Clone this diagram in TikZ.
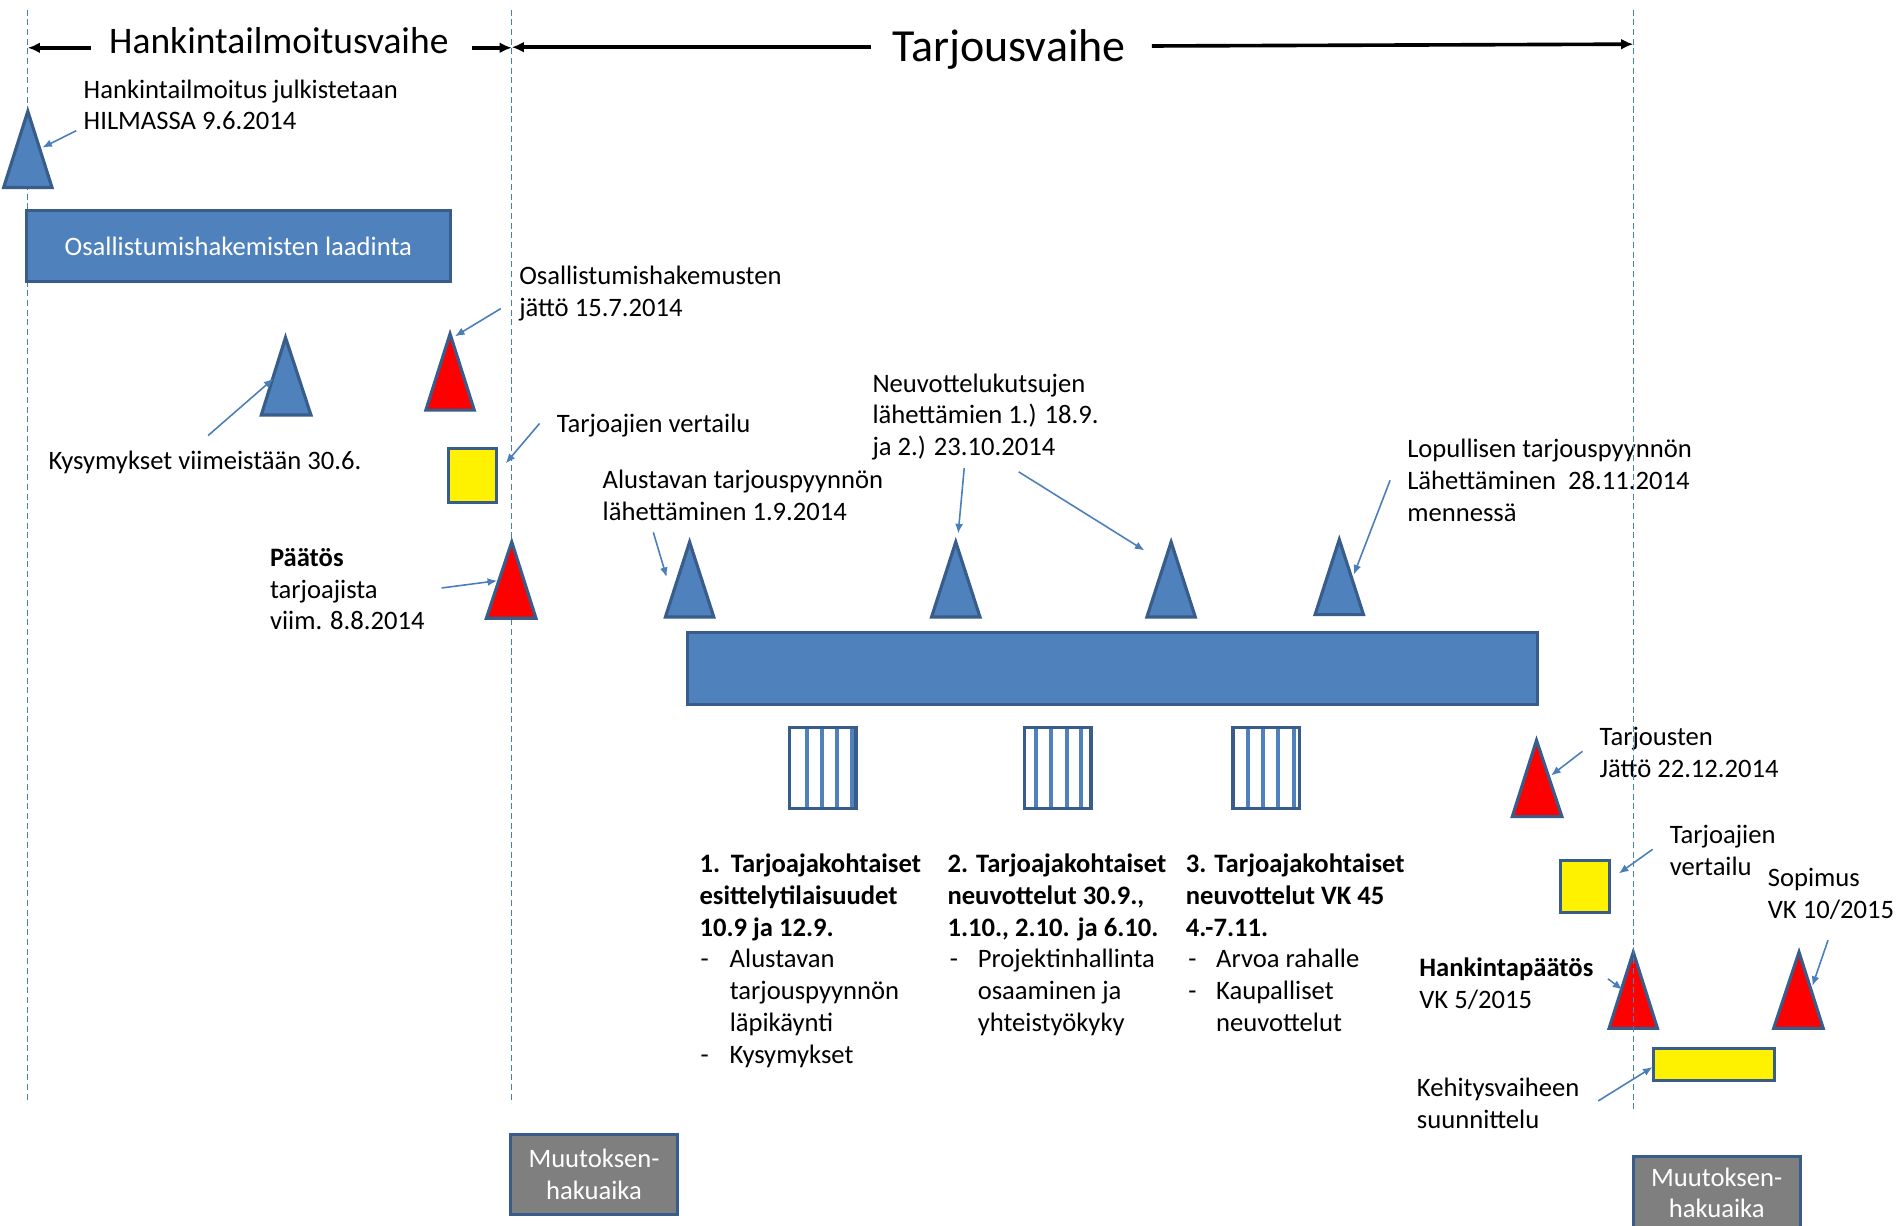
\documentclass[tikz,border=0pt]{standalone}
\usepackage{fontspec}
\setmainfont{Carlito}
\usetikzlibrary{arrows.meta}
\definecolor{bfill}{HTML}{4F81BD}
\definecolor{bline}{HTML}{385D8A}
\definecolor{arr}{HTML}{4A7EBB}
\definecolor{gfill}{HTML}{7F7F7F}
\begin{document}
\begin{tikzpicture}[x=1pt,y=-1pt,
  lbl/.style={anchor=north west, inner sep=0pt, align=left, font=\fontsize{22}{26.3}\selectfont},
  callout/.style={draw=arr, line width=1.3pt, -{Latex[length=8pt,width=6.5pt]}},
  phasearrow/.style={draw=black, line width=3pt, -{Latex[length=10pt,width=9pt]}},
  vline/.style={draw=arr, line width=1pt, dash pattern=on 5pt off 3pt},
  bluetri/.style={fill=bfill, draw=bline, line width=2.6pt},
  redtri/.style={fill=red, draw=bline, line width=2.6pt},
  bluebar/.style={rectangle, fill=bfill, draw=bline, line width=2.5pt, inner sep=0pt},
  ybox/.style={rectangle, fill=yellow, draw=bline, line width=2.5pt, inner sep=0pt},
  gbox/.style={rectangle, fill=gfill, draw=bline, line width=2.5pt, inner sep=0pt, text=white, align=center, font=\fontsize{22}{26.3}\selectfont},
  sbox/.style={rectangle, fill=white, draw=bline, line width=2.6pt, inner sep=0pt, minimum width=55pt, minimum height=67pt},
  stripe/.style={draw=bfill, line width=3.2pt}
]
\clip (0,0) rectangle (1568,1013);
\fill[white] (0,0) rectangle (1568,1013);

% dashed phase borders
\draw[vline] (23,8) -- (23,912);
\draw[vline] (423,8) -- (423,912);

% phase headers
\node[font=\fontsize{31}{36}\selectfont, anchor=base, inner sep=0pt] (ph1) at (230.5,44) {Hankintailmoitusvaihe};
\node[font=\fontsize{38}{44}\selectfont, anchor=base, inner sep=0pt] (ph2) at (834,51) {Tarjousvaihe};
\coordinate (h1a) at (75,39.5);  \coordinate (h1l) at (23,39.5);
\coordinate (h1b) at (390,39.5); \coordinate (h1r) at (423,39.5);
\coordinate (h2a) at (720,39);   \coordinate (h2l) at (423,39);
\coordinate (h2b) at (952,38);   \coordinate (h2r) at (1350,36.5);
\draw[phasearrow] (h1a) -- (h1l);
\draw[phasearrow] (h1b) -- (h1r);
\draw[phasearrow] (h2a) -- (h2l);
\draw[phasearrow] (h2b) -- (h2r);

% triangles
\draw[bluetri] (3,155) -- (23,92) -- (43,155) -- cycle;
\draw[bluetri] (216,343) -- (236,279) -- (257,343) -- cycle;
\draw[redtri] (352,339) -- (372,276) -- (392,339) -- cycle;
\draw[redtri] (402,511) -- (423,448) -- (443,511) -- cycle;
\draw[bluetri] (550,510) -- (570,448) -- (590,510) -- cycle;
\draw[bluetri] (770,510) -- (790,448) -- (810,510) -- cycle;
\draw[bluetri] (948,510) -- (968,448) -- (988,510) -- cycle;
\draw[bluetri] (1087,508) -- (1107,446) -- (1127,508) -- cycle;
\draw[redtri] (1250,675) -- (1270,612) -- (1291,675) -- cycle;
\draw[redtri] (1330,850) -- (1350,787) -- (1370,850) -- cycle;
\draw[redtri] (1466,850) -- (1487,787) -- (1507,850) -- cycle;

% bars and boxes
\node[bluebar, minimum width=350pt, minimum height=59pt, text=white, font=\fontsize{22}{26.3}\selectfont] (osal) at (197,203.5) {Osallistumishakemisten laadinta};
\node[bluebar, minimum width=703pt, minimum height=59pt] (neuv) at (919.5,552.5) {};
\node[ybox, minimum width=39pt, minimum height=44pt] (y1) at (390.5,393) {};
\node[ybox, minimum width=40pt, minimum height=43pt] (y2) at (1310,732.5) {};
\node[ybox, minimum width=100pt, minimum height=26pt] (y3) at (1417,880) {};
\node[gbox, minimum width=138pt, minimum height=66pt] (g1) at (491,971) {Muutoksen-\\hakuaika};
\node[gbox, minimum width=138pt, minimum height=60pt] (g2) at (1419,986) {Muutoksen-\\hakuaika};

% striped boxes
\node[sbox] (s1) at (680,634.5) {};
\node[sbox] (s2) at (874.3,634.5) {};
\node[sbox] (s3) at (1046.6,634.5) {};
\foreach \sx in {666.8,679.7,691.6,704} \draw[stripe] (\sx,602) -- (\sx,667);
\foreach \sx in {856.1,868.5,881.7,893.5} \draw[stripe] (\sx,602) -- (\sx,667);
\foreach \sx in {1031.3,1043.7,1056.6,1069.6} \draw[stripe] (\sx,602) -- (\sx,667);
\node[sbox, fill=none] (s1b) at (680,634.5) {};
\node[sbox, fill=none] (s2b) at (874.3,634.5) {};
\node[sbox, fill=none] (s3b) at (1046.6,634.5) {};

% labels
\node[lbl] (t1) at (69,62.5) {\strut Hankintailmoitus julkistetaan\\HILMASSA 9.6.2014};
\node[lbl] (t2) at (40,369.5) {\strut Kysymykset viimeistään 30.6.};
\node[lbl] (t3) at (429,216.5) {\strut Osallistumishakemusten\\jättö 15.7.2014};
\node[lbl] (t4) at (460,338.5) {\strut Tarjoajien vertailu};
\node[lbl] (t5) at (223,449.5) {\strut\textbf{Päätös}\\tarjoajista\\viim. 8.8.2014};
\node[lbl] (t6) at (498,385.5) {\strut Alustavan tarjouspyynnön\\lähettäminen 1.9.2014};
\node[lbl] (t7) at (721,305.5) {\strut Neuvottelukutsujen\\lähettämien 1.) 18.9.\\ja 2.) 23.10.2014};
\node[lbl] (t8) at (1163,359.5) {\strut Lopullisen tarjouspyynnön\\Lähettäminen\ \ 28.11.2014\\mennessä};
\node[lbl] (t9) at (1322,597.5) {\strut Tarjousten\\Jättö 22.12.2014};
\node[lbl] (t10) at (1380,678.5) {\strut Tarjoajien\\vertailu};
\node[lbl] (t11) at (1461,714.5) {\strut Sopimus\\VK 10/2015};
\node[lbl] (t12) at (1173,788.5) {\strut\textbf{Hankintapäätös}\\VK 5/2015};
\node[lbl] (t13) at (1171,887.5) {\strut Kehitysvaiheen\\suunnittelu};

\node[lbl] (c1) at (578,702.5) {\strut\textbf{\makebox[26pt][l]{1.}Tarjoajakohtaiset}\\\textbf{esittelytilaisuudet}\\\textbf{10.9 ja 12.9.}\\\makebox[25pt][l]{\hspace{1pt}-}Alustavan\\\hspace*{25pt}tarjouspyynnön\\\hspace*{25pt}läpikäynti\\\makebox[25pt][l]{\hspace{1pt}-}Kysymykset};
\node[lbl] (c2) at (783,702.5) {\strut\textbf{2. Tarjoajakohtaiset}\\\textbf{neuvottelut 30.9.,}\\\textbf{1.10., 2.10. ja 6.10.}\\\makebox[25pt][l]{\hspace{2pt}-}Projektinhallinta\\\hspace*{25pt}osaaminen ja\\\hspace*{25pt}yhteistyökyky};
\node[lbl] (c3) at (980,702.5) {\strut\textbf{3. Tarjoajakohtaiset}\\\textbf{neuvottelut VK 45}\\\textbf{4.-7.11.}\\\makebox[25pt][l]{\hspace{2pt}-}Arvoa rahalle\\\makebox[25pt][l]{\hspace{2pt}-}Kaupalliset\\\hspace*{25pt}neuvottelut};

% callout arrows
\coordinate (a1s) at (63,108);   \coordinate (a1e) at (35,122);
\coordinate (a2s) at (172,360);  \coordinate (a2e) at (226,313);
\coordinate (a3s) at (414,255);  \coordinate (a3e) at (376,278);
\coordinate (a4s) at (446,350);  \coordinate (a4e) at (418,383);
\coordinate (a5s) at (365,486);  \coordinate (a5e) at (411,480);
\coordinate (a6s) at (540,440);  \coordinate (a6e) at (551,477);
\coordinate (a7s) at (797,387);  \coordinate (a7e) at (792,441);
\coordinate (a8s) at (842,390);  \coordinate (a8e) at (946,455);
\coordinate (a9s) at (1149,397); \coordinate (a9e) at (1119,475);
\coordinate (a10s) at (1308,621); \coordinate (a10e) at (1282,641);
\coordinate (a11s) at (1366,702); \coordinate (a11e) at (1338,722);
\coordinate (a12s) at (1511,777); \coordinate (a12e) at (1498,815);
\coordinate (a13s) at (1329,809); \coordinate (a13e) at (1341,818);
\coordinate (a14s) at (1321,910); \coordinate (a14e) at (1366,882);
\foreach \k in {1,...,14} \draw[callout] (a\k s) -- (a\k e);

% third dashed border on top
\draw[vline] (1350,8) -- (1350,918);
\end{tikzpicture}
\end{document}
